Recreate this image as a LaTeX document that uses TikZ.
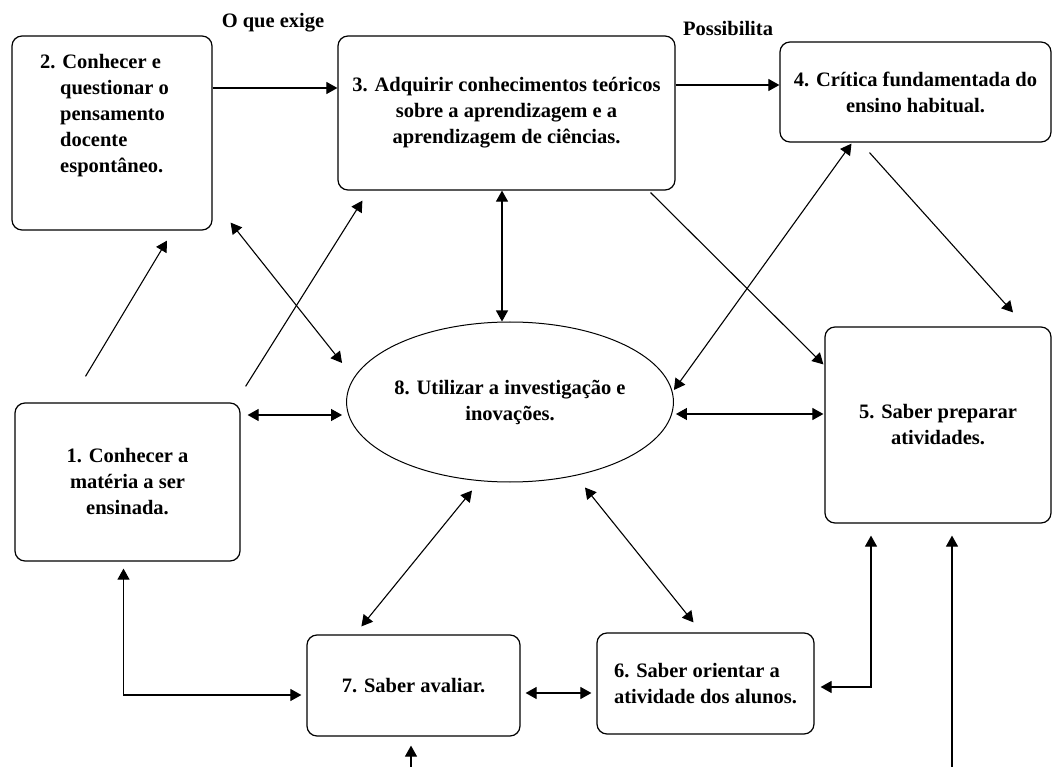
\documentclass[tikz,border=0pt]{standalone}
\usepackage{fontspec}
\setmainfont{Liberation Serif}
\usetikzlibrary{arrows.meta,shapes.geometric}

\begin{document}
\begin{tikzpicture}[
    x=1pt,
    y=-1pt,
    font=\fontsize{20.5}{26}\selectfont\bfseries,
    box/.style={draw, rounded corners=10pt, line width=1.2pt, inner sep=0pt, align=center},
    oval/.style={draw, ellipse, line width=1pt, inner sep=0pt, align=center, minimum width=326pt, minimum height=160pt},
    txt/.style={inner sep=0pt, align=left},
    e/.style={draw, line width=1.1pt, -{Triangle[length=11pt,width=12pt]}},
    ee/.style={draw, line width=1.1pt, {Triangle[length=11pt,width=12pt]}-{Triangle[length=11pt,width=12pt]}},
]
    \useasboundingbox (0,0) rectangle (1053,767);

    \node[box, minimum width=200pt, minimum height=194pt] (b2) at (112,133) {};
    \node[txt, anchor=north west] (t2) at (40,54) {2. Conhecer e\\\hspace*{20pt}questionar o\\\hspace*{20pt}pensamento\\\hspace*{20pt}docente\\\hspace*{20pt}espontâneo.};
    \node[box, minimum width=337pt, minimum height=154pt] (b3) at (506.5,113) {3. Adquirir conhecimentos teóricos\\sobre a aprendizagem e a\\aprendizagem de ciências.};
    \node[box, minimum width=271pt, minimum height=100pt] (b4) at (915.5,92) {4. Crítica fundamentada do\\ensino habitual.};
    \node[oval] (e8) at (510,402) {8. Utilizar a investigação e\\inovações.};
    \node[box, minimum width=226pt, minimum height=196pt] (b5) at (938,425) {5. Saber preparar\\atividades.};
    \node[box, minimum width=225pt, minimum height=158pt] (b1) at (127.5,482) {1. Conhecer a\\matéria a ser\\ensinada.};
    \node[box, minimum width=213pt, minimum height=101pt] (b7) at (413.5,685.5) {7. Saber avaliar.};
    \node[box, minimum width=217pt, minimum height=101pt, align=left] (b6) at (705.5,683.5) {6. Saber orientar a\\atividade dos alunos.};

    \node (lq) at (273,23) {O que exige};
    \node (lp) at (728,28) {Possibilita};

    \coordinate (in7) at (411,767);
    \coordinate (in5) at (952,767);

    \draw[e] (b2.east |- 0,88) -- (b3.west |- 0,88);
    \draw[e] (b3.east |- 0,85) -- (b4.west |- 0,85);
    \draw[ee] (b3.south -| 502,0) -- (e8.north -| 502,0);
    \draw[e] ([shift={(-42,-26)}]b1.north) -- ([shift={(55,10)}]b2.south);
    \draw[e] ([shift={(5,-16)}]b1.north east) -- ([shift={(25,10)}]b3.south west);
    \draw[ee] ([shift={(18,-8)}]b2.south east) -- ([shift={(-4,-39)}]e8.west);
    \draw[ee, shorten <=7pt, shorten >=4pt] (b1.east |- 0,415) -- (e8.west |- 0,415);
    \draw[ee, shorten <=2pt, shorten >=1pt] (e8.east |- 0,414) -- (b5.west |- 0,414);
    \draw[ee] ([shift={(-64,1)}]b4.south) -- ([shift={(0,-12)}]e8.east);
    \draw[e] ([shift={(-25,2)}]b3.south east) -- ([shift={(-1,38)}]b5.north west);
    \draw[e] ([shift={(-46,10)}]b4.south) -- ([shift={(75,-14)}]b5.north);
    \draw[ee] ([shift={(-38,8)}]e8.south) -- ([shift={(55,-8)}]b7.north west);
    \draw[ee] ([shift={(75,5)}]e8.south) -- ([shift={(-12,-10)}]b6.north);
    \draw[ee, shorten <=5pt, shorten >=5pt] (b7.east |- 0,693) -- (b6.west |- 0,693);
    \draw[ee, shorten <=6pt] (b6.east |- 0,687) -| ([shift={(-67,12)}]b5.south);
    \draw[ee, shorten >=5pt] ([shift={(-4,7)}]b1.south) |- (b7.west |- 0,695);
    \draw[e] (in7) -- ([shift={(-2.5,9)}]b7.south);
    \draw[e] (in5) -- ([shift={(14,12)}]b5.south);
\end{tikzpicture}
\end{document}
